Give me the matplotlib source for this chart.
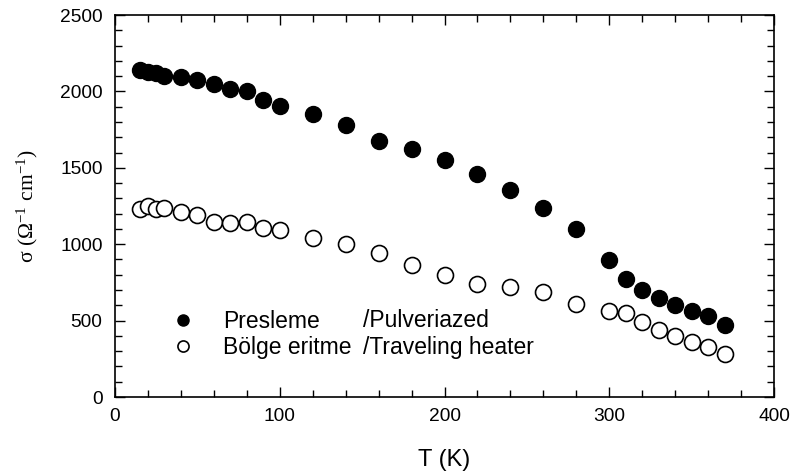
import matplotlib
matplotlib.use("Agg")
import matplotlib.pyplot as plt
from matplotlib.ticker import MultipleLocator
from matplotlib.lines import Line2D

T = [15, 20, 25, 30, 40, 50, 60, 70, 80, 90, 100, 120, 140, 160, 180, 200,
     220, 240, 260, 280, 300, 310, 320, 330, 340, 350, 360, 370]
sigma_pressed = [2140, 2130, 2122, 2104, 2093, 2073, 2049, 2019, 2003, 1944, 1905,
                 1855, 1783, 1673, 1623, 1551, 1461, 1352, 1240, 1102, 899, 774,
                 700, 647, 601, 562, 527, 468]
sigma_melt = [1231, 1247, 1231, 1236, 1209, 1192, 1148, 1142, 1148, 1109, 1096,
              1039, 1004, 943, 864, 798, 739, 720, 685, 608, 562, 549, 488, 437,
              396, 361, 324, 282]
labels_tr = ["Presleme", "Bölge eritme"]
labels_en = ["/Pulveriazed", "/Traveling heater"]

plt.rcParams['font.family'] = ['Liberation Sans', 'DejaVu Sans']
plt.rcParams['mathtext.fontset'] = 'custom'
plt.rcParams['mathtext.rm'] = 'Liberation Serif'
plt.rcParams['mathtext.it'] = 'Liberation Serif'
plt.rcParams['mathtext.bf'] = 'Liberation Serif:bold'

fig = plt.figure(figsize=(7.91, 4.75), dpi=100)
ax = fig.add_axes([0.1454, 0.1642, 0.8331, 0.8042])

ax.plot(T, sigma_pressed, 'o', ms=11.5, mfc='black', mec='black', mew=1.0)
ax.plot(T, sigma_melt, 'o', ms=11.5, mfc='white', mec='black', mew=1.2)

ax.set_xlim(0, 400)
ax.set_ylim(0, 2500)
ax.xaxis.set_major_locator(MultipleLocator(100))
ax.xaxis.set_minor_locator(MultipleLocator(20))
ax.yaxis.set_major_locator(MultipleLocator(500))
ax.yaxis.set_minor_locator(MultipleLocator(100))
ax.tick_params(which='both', direction='in', top=True, right=True,
               labelsize=13.8, width=1.0)
ax.tick_params(axis='y', pad=9)
ax.tick_params(axis='x', pad=8)
ax.tick_params(which='major', length=7)
ax.tick_params(which='minor', length=5)
for s in ax.spines.values():
    s.set_linewidth(1.2)

ax.set_xlabel("T (K)", fontsize=17, labelpad=17)
ax.set_ylabel(r"$\sigma\ (\Omega^{-1}\ \mathrm{cm}^{-1})$", fontsize=15.5, labelpad=14)

handles = [Line2D([], [], ls='none', marker='o', ms=8, mfc='black', mec='black'),
           Line2D([], [], ls='none', marker='o', ms=8, mfc='white', mec='black', mew=1.2)]
ax.legend(handles, labels_tr, loc='center left', bbox_to_anchor=(34.2, 410),
          bbox_transform=ax.transData, frameon=False, fontsize=16.5,
          handletextpad=1.25, labelspacing=0.12, handlelength=1.0,
          borderpad=0, borderaxespad=0)
ax.text(150.5, 499, labels_en[0], fontsize=16.5, va='center', ha='left')
ax.text(150.5, 321, labels_en[1], fontsize=16.5, va='center', ha='left')

fig.savefig("out.png", dpi=100)
